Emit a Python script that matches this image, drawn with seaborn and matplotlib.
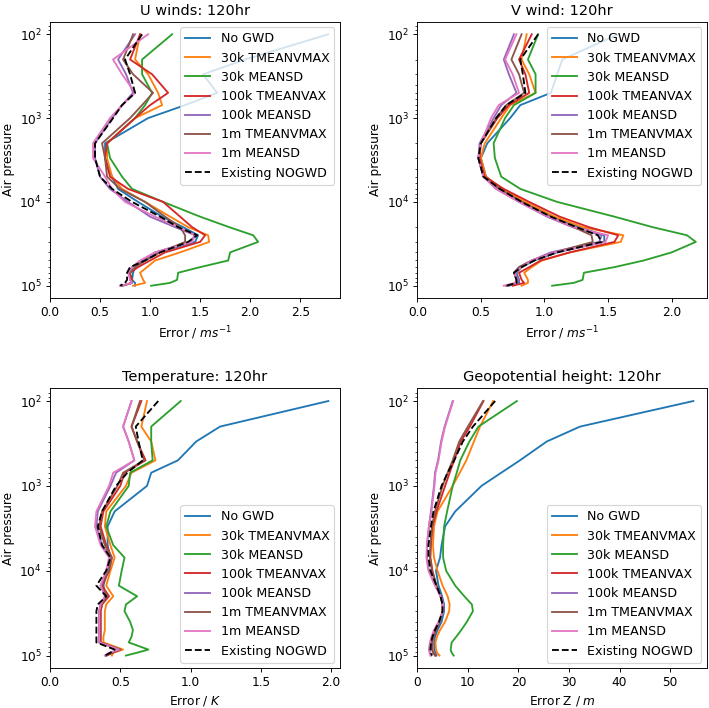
import matplotlib
matplotlib.use("Agg")
import matplotlib.pyplot as plt
import seaborn as sns
import pandas as pd

# ---------------- data ----------------
pressure = [100, 200, 300, 500, 700, 1000, 2000, 3000, 5000, 7000, 10000, 15000,
            20000, 25000, 30000, 40000, 50000, 60000, 70000, 85000, 92500, 100000]

series_names = ["No GWD", "30k TMEANVMAX", "30k MEANSD", "100k TMEANVAX",
                "100k MEANSD", "1m TMEANVMAX", "1m MEANSD", "Existing NOGWD"]

# U winds
u_nogwd = [2.78, 1.95, 1.53, 1.67, 1.35, 0.98, 0.55, 0.55, 0.62, 0.68, 0.88, 1.12, 1.33, 1.48, 1.45, 1.08, 0.95, 0.85, 0.83, 0.82, 0.85, 0.85]
u_30k_tm = [0.90, 0.85, 0.98, 1.08, 1.12, 0.85, 0.57, 0.57, 0.62, 0.72, 0.95, 1.20, 1.38, 1.58, 1.59, 1.30, 1.05, 0.97, 0.90, 0.93, 0.95, 0.83]
u_30k_ms = [1.22, 0.92, 0.92, 1.02, 0.95, 0.85, 0.57, 0.60, 0.72, 0.82, 1.13, 1.50, 1.79, 2.03, 2.08, 1.80, 1.78, 1.50, 1.28, 1.27, 1.20, 1.01]
u_100k_tm = [0.90, 0.80, 1.02, 1.18, 1.00, 0.85, 0.57, 0.55, 0.60, 0.78, 1.13, 1.30, 1.42, 1.55, 1.50, 1.15, 1.00, 0.88, 0.80, 0.82, 0.82, 0.72]
u_100k_ms = [0.85, 0.68, 0.76, 0.83, 0.72, 0.62, 0.45, 0.45, 0.50, 0.60, 0.78, 1.00, 1.25, 1.45, 1.40, 1.05, 0.92, 0.82, 0.80, 0.80, 0.82, 0.72]
u_1m_tm = [0.83, 0.73, 0.83, 1.03, 0.92, 0.80, 0.52, 0.55, 0.57, 0.70, 0.95, 1.15, 1.30, 1.35, 1.35, 1.10, 0.95, 0.85, 0.80, 0.80, 0.82, 0.72]
u_1m_ms = [0.98, 0.63, 0.72, 0.85, 0.72, 0.60, 0.43, 0.43, 0.55, 0.62, 0.75, 1.05, 1.28, 1.45, 1.42, 1.05, 0.90, 0.82, 0.78, 0.80, 0.82, 0.70]
u_exist = [0.92, 0.75, 0.80, 0.85, 0.72, 0.63, 0.45, 0.45, 0.50, 0.62, 0.82, 1.10, 1.28, 1.47, 1.38, 1.10, 0.95, 0.80, 0.77, 0.77, 0.75, 0.70]

# V wind
v_nogwd = [1.58, 1.14, 1.10, 1.05, 0.81, 0.73, 0.55, 0.50, 0.54, 0.66, 0.83, 1.06, 1.27, 1.47, 1.47, 1.10, 0.92, 0.82, 0.78, 0.80, 0.80, 0.72]
v_30k_tm = [0.86, 0.82, 0.88, 0.93, 0.73, 0.66, 0.53, 0.50, 0.54, 0.67, 0.85, 1.08, 1.30, 1.62, 1.60, 1.20, 0.98, 0.90, 0.84, 0.87, 0.87, 0.82]
v_30k_ms = [0.95, 0.87, 0.93, 0.93, 0.76, 0.69, 0.60, 0.61, 0.66, 0.81, 1.10, 1.55, 1.85, 2.12, 2.19, 2.00, 1.78, 1.55, 1.31, 1.30, 1.23, 1.06]
v_100k_tm = [0.90, 0.80, 0.85, 0.88, 0.72, 0.63, 0.50, 0.49, 0.53, 0.68, 0.88, 1.12, 1.35, 1.58, 1.55, 1.20, 0.97, 0.88, 0.80, 0.82, 0.84, 0.75]
v_100k_ms = [0.76, 0.68, 0.72, 0.78, 0.66, 0.60, 0.49, 0.48, 0.52, 0.62, 0.80, 1.02, 1.22, 1.45, 1.43, 1.05, 0.90, 0.80, 0.76, 0.80, 0.79, 0.70]
v_1m_tm = [0.82, 0.74, 0.80, 0.84, 0.70, 0.62, 0.50, 0.48, 0.52, 0.64, 0.82, 1.04, 1.23, 1.37, 1.38, 1.08, 0.90, 0.80, 0.76, 0.78, 0.78, 0.70]
v_1m_ms = [0.78, 0.69, 0.75, 0.80, 0.64, 0.58, 0.50, 0.48, 0.52, 0.62, 0.80, 1.03, 1.23, 1.50, 1.48, 1.08, 0.90, 0.82, 0.77, 0.78, 0.77, 0.68]
v_exist = [0.95, 0.81, 0.83, 0.85, 0.70, 0.62, 0.50, 0.48, 0.52, 0.65, 0.82, 1.05, 1.25, 1.42, 1.45, 1.10, 0.92, 0.82, 0.76, 0.78, 0.78, 0.70]

# Temperature
t_nogwd = [1.98, 1.21, 1.04, 0.91, 0.72, 0.69, 0.46, 0.41, 0.41, 0.43, 0.41, 0.38, 0.40, 0.37, 0.36, 0.36, 0.36, 0.36, 0.36, 0.50, 0.44, 0.40]
t_30k_tm = [0.69, 0.65, 0.72, 0.75, 0.58, 0.54, 0.40, 0.39, 0.43, 0.46, 0.43, 0.40, 0.45, 0.40, 0.39, 0.39, 0.39, 0.38, 0.38, 0.52, 0.45, 0.44]
t_30k_ms = [0.93, 0.72, 0.72, 0.73, 0.57, 0.56, 0.43, 0.40, 0.45, 0.53, 0.51, 0.49, 0.62, 0.54, 0.53, 0.57, 0.59, 0.58, 0.56, 0.70, 0.62, 0.54]
t_100k_tm = [0.65, 0.58, 0.62, 0.68, 0.53, 0.50, 0.38, 0.36, 0.40, 0.44, 0.42, 0.37, 0.42, 0.37, 0.36, 0.36, 0.36, 0.36, 0.36, 0.50, 0.45, 0.40]
t_100k_ms = [0.58, 0.52, 0.56, 0.60, 0.47, 0.43, 0.34, 0.33, 0.37, 0.43, 0.41, 0.36, 0.40, 0.36, 0.35, 0.35, 0.35, 0.35, 0.35, 0.50, 0.43, 0.40]
t_1m_tm = [0.64, 0.58, 0.62, 0.67, 0.52, 0.48, 0.37, 0.35, 0.39, 0.44, 0.42, 0.36, 0.41, 0.36, 0.35, 0.35, 0.35, 0.35, 0.35, 0.50, 0.44, 0.40]
t_1m_ms = [0.58, 0.52, 0.56, 0.60, 0.45, 0.42, 0.33, 0.32, 0.36, 0.42, 0.40, 0.36, 0.39, 0.36, 0.35, 0.35, 0.35, 0.35, 0.35, 0.49, 0.42, 0.39]
t_exist = [0.77, 0.61, 0.63, 0.66, 0.55, 0.47, 0.37, 0.34, 0.37, 0.43, 0.40, 0.33, 0.40, 0.34, 0.33, 0.33, 0.33, 0.33, 0.33, 0.46, 0.43, 0.39]

# Geopotential height
z_nogwd = [54.6, 32.2, 25.6, 20.3, 16.6, 12.7, 7.5, 5.5, 4.8, 4.5, 3.7, 4.2, 4.9, 5.3, 5.3, 4.8, 4.0, 3.5, 3.3, 3.4, 3.6, 3.8]
z_30k_tm = [15.0, 12.4, 11.2, 9.7, 8.4, 7.0, 4.0, 3.3, 3.1, 3.3, 4.0, 5.0, 6.0, 6.4, 6.3, 5.5, 4.5, 3.9, 3.6, 3.7, 3.9, 4.4]
z_30k_ms = [19.7, 12.1, 10.3, 8.5, 7.8, 7.0, 5.9, 5.3, 5.1, 5.1, 5.7, 7.5, 9.3, 10.8, 11.0, 9.8, 8.7, 7.7, 6.8, 6.6, 6.8, 7.2]
z_100k_tm = [13.1, 10.4, 8.6, 7.3, 6.4, 5.5, 3.8, 3.0, 2.7, 2.6, 3.0, 3.8, 4.6, 5.0, 5.0, 4.4, 3.7, 3.2, 2.9, 3.0, 3.2, 3.6]
z_100k_ms = [7.0, 5.4, 4.7, 4.1, 3.5, 3.3, 2.7, 2.3, 1.9, 1.9, 2.3, 3.6, 4.7, 5.2, 5.2, 4.3, 3.4, 2.9, 2.6, 2.4, 2.5, 2.7]
z_1m_tm = [13.0, 10.0, 8.3, 7.0, 6.0, 5.0, 3.5, 2.9, 2.6, 2.5, 2.9, 3.8, 4.6, 5.0, 5.0, 4.4, 3.6, 3.1, 2.8, 2.9, 3.1, 3.5]
z_1m_ms = [7.1, 5.5, 4.8, 4.2, 3.6, 3.4, 2.8, 2.3, 1.9, 1.8, 2.2, 3.5, 4.6, 5.1, 5.1, 4.2, 3.3, 2.8, 2.5, 2.3, 2.4, 2.6]
z_exist = [15.4, 11.0, 9.0, 7.3, 6.0, 4.8, 3.2, 2.7, 2.2, 2.2, 2.6, 3.8, 4.6, 5.0, 5.0, 4.3, 3.5, 3.0, 2.7, 2.6, 2.7, 2.9]

titles = ["U winds: 120hr", "V wind: 120hr", "Temperature: 120hr", "Geopotential height: 120hr"]
xlabels = ["Error / $ms^{-1}$", "Error / $ms^{-1}$", "Error / $K$", "Error Z / $m$"]
legend_locs = ["upper right", "upper right", "lower right", "lower right"]

panels = [
    [u_nogwd, u_30k_tm, u_30k_ms, u_100k_tm, u_100k_ms, u_1m_tm, u_1m_ms, u_exist],
    [v_nogwd, v_30k_tm, v_30k_ms, v_100k_tm, v_100k_ms, v_1m_tm, v_1m_ms, v_exist],
    [t_nogwd, t_30k_tm, t_30k_ms, t_100k_tm, t_100k_ms, t_1m_tm, t_1m_ms, t_exist],
    [z_nogwd, z_30k_tm, z_30k_ms, z_100k_tm, z_100k_ms, z_1m_tm, z_1m_ms, z_exist],
]

# ---------------- figure ----------------
DPI = 83.3
W, H = 709, 708
fig = plt.figure(figsize=(W / DPI, H / DPI), dpi=DPI)

tab = sns.color_palette("tab10")
colors = [tab[i] for i in range(7)] + ["k"]

# pixel boxes (left, top, right, bottom)
boxes = [(50, 21.7, 340, 298.3), (417.3, 21.7, 706.7, 298.3),
         (50, 388.3, 340, 668.3), (417.3, 388.3, 706.7, 668.3)]

for k in range(4):
    l, t, r, b = boxes[k]
    ax = fig.add_axes([l / W, 1 - b / H, (r - l) / W, (b - t) / H])
    frames = []
    for name, vals in zip(series_names, panels[k]):
        frames.append(pd.DataFrame({"error": vals, "pressure": pressure, "series": name}))
    df = pd.concat(frames, ignore_index=True)
    for i, name in enumerate(series_names):
        sub = df[df["series"] == name]
        sns.lineplot(data=sub, x="error", y="pressure", sort=False, estimator=None,
                     orient="y", color=colors[i], linewidth=1.6,
                     linestyle="--" if name == "Existing NOGWD" else "-",
                     label=name, ax=ax)
    ax.set_yscale("log")
    ax.invert_yaxis()
    ax.set_xlim(left=0)
    ax.set_title(titles[k], fontsize=12.5)
    ax.set_xlabel(xlabels[k], fontsize=10.5)
    ax.set_ylabel("Air pressure", fontsize=10.5)
    ax.tick_params(labelsize=10.5)
    ax.legend(loc=legend_locs[k], fontsize=10.9, labelspacing=0.49,
              borderaxespad=0.45)

fig.savefig("out.png", dpi=DPI)
